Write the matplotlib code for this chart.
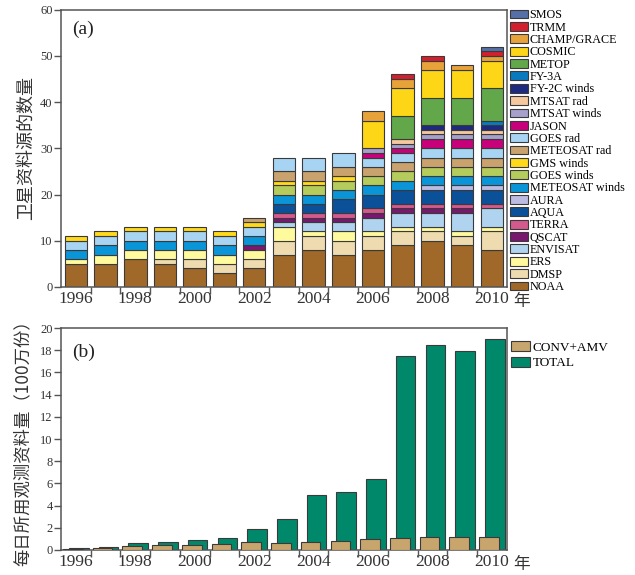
import matplotlib
matplotlib.use("Agg")
import matplotlib.pyplot as plt
from matplotlib.patches import Patch

plt.rcParams['font.family'] = ['Liberation Serif', 'Noto Sans CJK SC']

years = list(range(1996, 2011))

# satellite data sources per year, bottom of the stack first
names = ['NOAA', 'DMSP', 'ERS', 'ENVISAT', 'QSCAT', 'TERRA', 'AQUA', 'AURA',
         'METEOSAT winds', 'GOES winds', 'GMS winds', 'METEOSAT rad', 'GOES rad',
         'JASON', 'MTSAT winds', 'MTSAT rad', 'FY-2C winds', 'FY-3A', 'METOP',
         'COSMIC', 'CHAMP/GRACE', 'TRMM', 'SMOS']
noaa = [5, 5, 6, 5, 4, 3, 4, 7, 8, 7, 8, 9, 10, 9, 8]
dmsp = [0, 0, 0, 1, 2, 2, 2, 3, 3, 3, 3, 3, 2, 2, 4]
ers = [1, 2, 2, 2, 2, 2, 2, 3, 1, 2, 1, 1, 1, 1, 1]
envisat = [0, 0, 0, 0, 0, 0, 0, 1, 2, 2, 3, 3, 3, 4, 4]
qscat = [0, 0, 0, 0, 0, 0, 1, 1, 1, 1, 1, 1, 1, 1, 0]
terra = [0, 0, 0, 0, 0, 0, 0, 1, 1, 1, 1, 1, 1, 1, 1]
aqua = [0, 0, 0, 0, 0, 0, 0, 2, 2, 3, 3, 3, 3, 3, 3]
aura = [0, 0, 0, 0, 0, 0, 0, 0, 0, 0, 0, 0, 1, 1, 1]
meteosat_winds = [2, 2, 2, 2, 2, 2, 2, 2, 2, 2, 2, 2, 2, 2, 2]
goes_winds = [0, 0, 0, 0, 0, 0, 0, 2, 2, 2, 2, 2, 2, 2, 2]
gms_winds = [1, 1, 1, 1, 1, 1, 1, 1, 1, 1, 0, 0, 0, 0, 0]
meteosat_rad = [0, 0, 0, 0, 0, 0, 1, 2, 2, 2, 2, 2, 2, 2, 2]
goes_rad = [2, 2, 2, 2, 2, 2, 2, 3, 3, 3, 2, 2, 2, 2, 2]
jason = [0, 0, 0, 0, 0, 0, 0, 0, 0, 0, 1, 1, 2, 2, 2]
mtsat_winds = [0, 0, 0, 0, 0, 0, 0, 0, 0, 0, 1, 1, 1, 1, 1]
mtsat_rad = [0, 0, 0, 0, 0, 0, 0, 0, 0, 0, 0, 1, 1, 1, 1]
fy2c_winds = [0, 0, 0, 0, 0, 0, 0, 0, 0, 0, 0, 0, 1, 1, 1]
fy3a = [0, 0, 0, 0, 0, 0, 0, 0, 0, 0, 0, 0, 0, 0, 1]
metop = [0, 0, 0, 0, 0, 0, 0, 0, 0, 0, 0, 5, 6, 6, 7]
cosmic = [0, 0, 0, 0, 0, 0, 0, 0, 0, 0, 6, 6, 6, 6, 6]
champ_grace = [0, 0, 0, 0, 0, 0, 0, 0, 0, 0, 2, 2, 2, 1, 1]
trmm = [0, 0, 0, 0, 0, 0, 0, 0, 0, 0, 0, 1, 1, 0, 1]
smos = [0, 0, 0, 0, 0, 0, 0, 0, 0, 0, 0, 0, 0, 0, 1]

# daily observations used (millions)
total = [0.15, 0.27, 0.63, 0.72, 0.87, 1.05, 1.86, 2.8, 4.96, 5.2, 6.4, 17.47, 18.5, 17.95, 18.98]
conv_amv = [0.09, 0.15, 0.33, 0.42, 0.48, 0.57, 0.69, 0.66, 0.72, 0.8, 0.96, 1.05, 1.2, 1.2, 1.2]

values = dict(zip(names, [noaa, dmsp, ers, envisat, qscat, terra, aqua, aura,
                          meteosat_winds, goes_winds, gms_winds, meteosat_rad, goes_rad,
                          jason, mtsat_winds, mtsat_rad, fy2c_winds, fy3a, metop,
                          cosmic, champ_grace, trmm, smos]))

colors = ['#a0692a', '#eedcb0', '#fffa9e', '#b0d4f0', '#7a1870', '#d45a8e', '#0a519a',
          '#bcbce2', '#0a95d8', '#b4cc5c', '#ffd91a', '#c9a26e', '#a8d4f4', '#c8007a',
          '#a8a0cc', '#f5c8a0', '#1e2a80', '#0a7ac0', '#62a84a', '#fcd617', '#e8a23a',
          '#d2202e', '#5570a8']
cmap = dict(zip(names, colors))
edge = '#3a3a3a'
spine_col = '#555555'
tick_col = '#333333'

fig = plt.figure(figsize=(6.35, 5.75), dpi=100)
ax1 = fig.add_axes([0.096, 0.501, 0.702, 0.482])
ax2 = fig.add_axes([0.096, 0.0435, 0.702, 0.386])

x = list(range(len(years)))

# top: stacked bars
for i in x:
    order = list(names)
    if years[i] < 2003:
        # early years have GOES rad stacked under GMS winds
        order.remove('GOES rad')
        order.insert(order.index('GMS winds'), 'GOES rad')
    bottom = 0
    for n in order:
        v = values[n][i]
        if v:
            ax1.bar(i, v, bottom=bottom, width=0.76, color=cmap[n],
                    edgecolor=edge, linewidth=0.8)
            bottom += v

handles = [Patch(facecolor=cmap[n], edgecolor=edge, linewidth=0.8, label=n)
           for n in reversed(names)]
ax1.legend(handles=handles, loc='upper left', bbox_to_anchor=(1.0, 1.015),
           frameon=False, fontsize=8.7, handlelength=1.45, handleheight=0.75,
           handletextpad=0.15, labelspacing=0.03, borderaxespad=0.3,
           borderpad=0.0)

# bottom: overlapping bars
ax2.bar([i + 0.1 for i in x], total, width=0.66, color='#00886a',
        edgecolor=edge, linewidth=0.8, label='TOTAL', zorder=2)
ax2.bar([i - 0.1 for i in x], conv_amv, width=0.66, color='#c9a56e',
        edgecolor=edge, linewidth=0.8, label='CONV+AMV', zorder=3)
h, l = ax2.get_legend_handles_labels()
ax2.legend(h[::-1], l[::-1], loc='upper left', bbox_to_anchor=(1.0, 0.96),
           frameon=False, fontsize=9.5, handlelength=1.45, handleheight=0.8,
           handletextpad=0.2, labelspacing=0.25, borderpad=0.0, borderaxespad=0.3)

for ax, top, step in [(ax1, 60, 10), (ax2, 20, 2)]:
    ax.set_xlim(-0.5, len(years) - 0.5)
    ax.set_ylim(0, top)
    ax.set_yticks(range(0, top + 1, step))
    ax.set_xticks(x[::2])
    ax.set_xticklabels([str(y) for y in years[::2]], fontsize=12.5, color=tick_col)
    ax.set_xticks([i + 0.5 for i in x[:-1]], minor=True)
    ax.tick_params(axis='x', which='major', length=0, pad=3)
    ax.tick_params(axis='x', which='minor', length=5, direction='out',
                   color=spine_col, width=1)
    ax.tick_params(axis='y', length=5, direction='out', color=spine_col,
                   width=1, labelsize=9, labelcolor=tick_col, pad=1)
    for s in ax.spines.values():
        s.set_color(spine_col)
        s.set_linewidth(1.1)
    # the unit 年 sits on the same baseline as the year labels
    ax.annotate('年', xy=(len(years), 0), xycoords=ax.get_xaxis_transform(),
                xytext=(0, -14), textcoords='offset points',
                fontsize=12, color=tick_col, ha='center', va='baseline',
                family=['Noto Sans CJK SC'], annotation_clip=False)

ax1.text(0.025, 0.96, '(a)', transform=ax1.transAxes, fontsize=14,
         color='#222222', va='top')
ax2.text(0.025, 0.93, '(b)', transform=ax2.transAxes, fontsize=14,
         color='#222222', va='top')

ax1.set_ylabel('卫星资料源的数量', fontsize=13, color='#333333',
               family=['Noto Sans CJK SC'])
ax1.yaxis.set_label_coords(-0.058, 0.5)
ax2.set_ylabel('每日所用观测资料量（100万份）', fontsize=12.5, color='#333333',
               family=['Noto Sans CJK SC', 'Liberation Serif'])
ax2.yaxis.set_label_coords(-0.066, 0.5)

fig.savefig('out.png', dpi=100)
